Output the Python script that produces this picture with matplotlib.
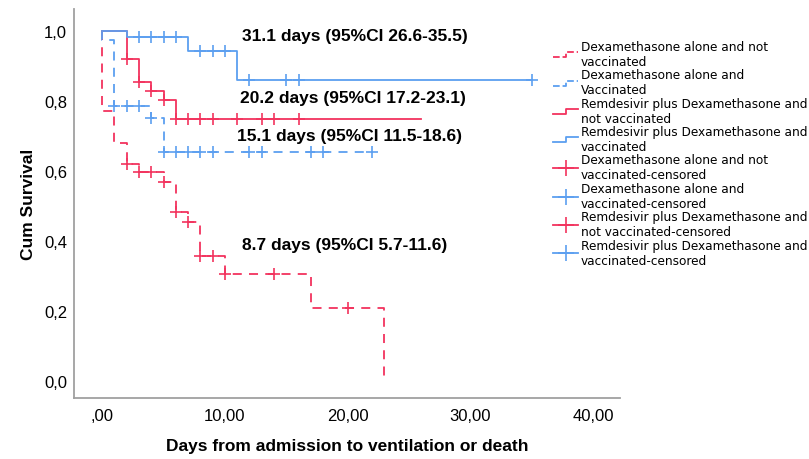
import matplotlib
matplotlib.use("Agg")
import matplotlib.pyplot as plt
import numpy as np
from matplotlib.lines import Line2D
from matplotlib.legend_handler import HandlerBase
from matplotlib.ticker import FuncFormatter, MultipleLocator

# Kaplan-Meier curves: step times, survival after each step, censored times
dex_novax_t = [0, 0, 1, 2, 3, 5, 6, 7, 8, 10, 17, 23]
dex_novax_s = [1.0, 0.77, 0.68, 0.62, 0.597, 0.569, 0.483, 0.454, 0.357, 0.306, 0.209, 0.0]
dex_novax_cens = [2, 3, 4, 5, 6, 7, 8, 9, 10, 14, 20]

dex_vax_t = [0, 0, 1, 4, 5, 22]
dex_vax_s = [1.0, 0.975, 0.786, 0.751, 0.654, 0.654]
dex_vax_cens = [1, 2, 3, 4, 5, 6, 7, 8, 9, 12, 13, 17, 18, 22]

rem_novax_t = [0, 2, 3, 4, 5, 6, 26]
rem_novax_s = [1.0, 0.92, 0.854, 0.829, 0.804, 0.749, 0.749]
rem_novax_cens = [2, 3, 4, 5, 6, 7, 8, 9, 11, 13, 14, 16]

rem_vax_t = [0, 2, 7, 11, 35]
rem_vax_s = [1.0, 0.982, 0.944, 0.86, 0.86]
rem_vax_cens = [3, 4, 5, 6, 8, 9, 10, 12, 15, 16, 35]

# median survival annotations (text, x, y)
notes = ["31.1 days (95%CI 26.6-35.5)", "20.2 days (95%CI 17.2-23.1)",
         "15.1 days (95%CI 11.5-18.6)", "8.7 days (95%CI 5.7-11.6)"]
notes_x = [11.4, 11.2, 11.0, 11.4]
notes_y = [0.986, 0.811, 0.70, 0.391]

labels = ["Dexamethasone alone and not\nvaccinated",
          "Dexamethasone alone and\nVaccinated",
          "Remdesivir plus Dexamethasone and\nnot vaccinated",
          "Remdesivir plus Dexamethasone and\nvaccinated",
          "Dexamethasone alone and not\nvaccinated-censored",
          "Dexamethasone alone and\nvaccinated-censored",
          "Remdesivir plus Dexamethasone and\nnot vaccinated-censored",
          "Remdesivir plus Dexamethasone and\nvaccinated-censored"]

RED = '#f2335e'
BLUE = '#5c9ff0'
DASH = (0, (5, 4))

plt.rcParams['font.family'] = ['Liberation Sans', 'DejaVu Sans']

fig = plt.figure(figsize=(8.09, 4.60), dpi=100)
ax = fig.add_axes([74 / 809, 61 / 460, 546 / 809, 389 / 460])

curves = [
    (dex_novax_t, dex_novax_s, dex_novax_cens, RED, DASH),
    (dex_vax_t, dex_vax_s, dex_vax_cens, BLUE, DASH),
    (rem_novax_t, rem_novax_s, rem_novax_cens, RED, '-'),
    (rem_vax_t, rem_vax_s, rem_vax_cens, BLUE, '-'),
]

for t, s, cens, col, ls in curves:
    ax.step(t, s, where='post', color=col, linestyle=ls, lw=1.3)
    idx = np.searchsorted(t, cens, side='right') - 1
    lev = np.array(s)[idx]
    ax.plot(cens, lev, linestyle='none', marker='+', color=col, ms=8, mew=1.2)

for txt, x, y in zip(notes, notes_x, notes_y):
    ax.text(x, y, txt, fontsize=12.5, fontweight='bold', va='center', ha='left')

ax.set_xlim(-2.3, 42.2)
ax.set_ylim(-0.049, 1.063)
ax.xaxis.set_major_locator(MultipleLocator(10))
ax.yaxis.set_major_locator(MultipleLocator(0.2))


def xfmt(v, pos):
    s = f"{v:.2f}".replace('.', ',')
    return s[1:] if s.startswith('0,') else s


ax.xaxis.set_major_formatter(FuncFormatter(xfmt))
ax.yaxis.set_major_formatter(FuncFormatter(lambda v, p: f"{v:.1f}".replace('.', ',')))
ax.tick_params(length=0, labelsize=12)
ax.tick_params(axis='x', pad=7)
ax.tick_params(axis='y', pad=5)
for side in ['top', 'right']:
    ax.spines[side].set_visible(False)
for side in ['left', 'bottom']:
    ax.spines[side].set_color('#a0a0a0')
    ax.spines[side].set_linewidth(1.3)

ax.set_xlabel('Days from admission to ventilation or death', fontsize=12.5,
              fontweight='bold', labelpad=11)
ax.set_ylabel('Cum Survival', fontsize=12.5, fontweight='bold', labelpad=6)


# small step-shaped handles like the SPSS legend
class StepHandler(HandlerBase):
    def create_artists(self, legend, orig, xd, yd, w, h, fontsize, trans):
        x0, y0 = -xd, -yd
        xs = [x0, x0 + 0.5 * w, x0 + 0.5 * w, x0 + w]
        ys = [y0 + 0.2 * h, y0 + 0.2 * h, y0 + 0.8 * h, y0 + 0.8 * h]
        ln = Line2D(xs, ys, color=orig.get_color(), linestyle=orig.get_linestyle(),
                    lw=orig.get_linewidth(), transform=trans)
        return [ln]


handles = [Line2D([], [], color=RED, linestyle=DASH, lw=1.3),
           Line2D([], [], color=BLUE, linestyle=DASH, lw=1.3),
           Line2D([], [], color=RED, lw=1.3),
           Line2D([], [], color=BLUE, lw=1.3),
           Line2D([], [], color=RED, lw=1.3, marker='+', ms=12, mew=1.2),
           Line2D([], [], color=BLUE, lw=1.3, marker='+', ms=12, mew=1.2),
           Line2D([], [], color=RED, lw=1.3, marker='+', ms=12, mew=1.2),
           Line2D([], [], color=BLUE, lw=1.3, marker='+', ms=12, mew=1.2)]
hmap = {h: StepHandler() for h in handles[:4]}

fig.legend(handles, labels, loc='upper left', bbox_to_anchor=(553 / 809, 1 - 41 / 460),
           frameon=False, handler_map=hmap, prop={'family': 'DejaVu Sans', 'size': 8.7},
           handlelength=2.1, handletextpad=0.2, labelspacing=0.03, borderpad=0,
           borderaxespad=0, markerfirst=True)

fig.savefig('out.png', dpi=100)
